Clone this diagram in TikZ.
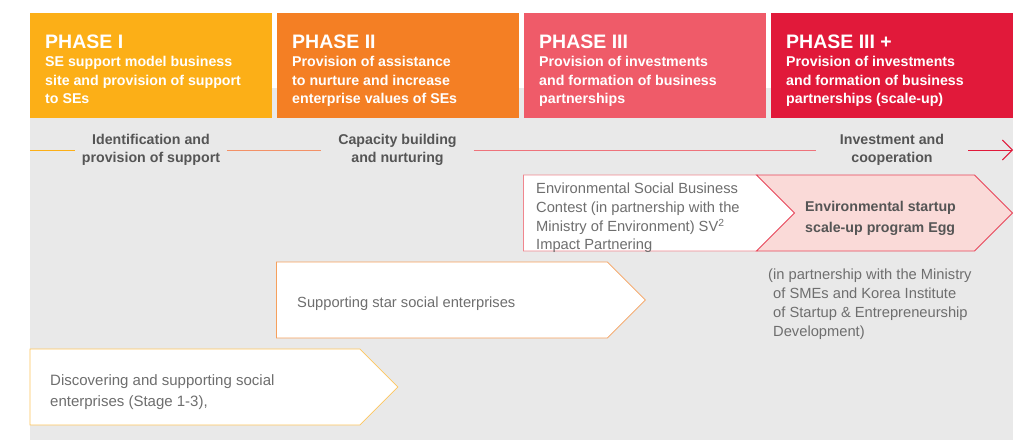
\documentclass[tikz,border=0pt]{standalone}
\usepackage{fontspec}
\setmainfont{Liberation Sans}
\usetikzlibrary{arrows.meta,shapes.symbols}
\definecolor{phaseI}{HTML}{FCAF17}
\definecolor{phaseII}{HTML}{F47F24}
\definecolor{phaseIII}{HTML}{EF5B69}
\definecolor{phaseIV}{HTML}{E1193A}
\definecolor{lineII}{HTML}{F39167}
\definecolor{lineIII}{HTML}{EE737B}
\definecolor{bggray}{HTML}{E9E9E9}
\definecolor{labelgray}{HTML}{555555}
\definecolor{textgray}{HTML}{6E6E6E}
\definecolor{envpink}{HTML}{F0868E}
\definecolor{eggpink}{HTML}{FADAD8}
\definecolor{eggedge}{HTML}{E8465A}
\definecolor{starorange}{HTML}{F6A05C}
\definecolor{discyellow}{HTML}{FDC55C}

\begin{document}
\begin{tikzpicture}
        [x=1pt,y=-1pt]
            \tikzstyle{header}=[anchor=north west, minimum width=242pt,
        minimum height=105pt, inner sep=0pt]
            \tikzstyle{phasetitle}=[anchor=base west, inner sep=0pt, text=white,
        font=\fontsize{19.5}{20}\selectfont\bfseries]
            \tikzstyle{phasesub}=[anchor=north west, inner sep=0pt, text=white,
        align=left, font=\fontsize{14.2}{18.5}\selectfont\bfseries]
            \tikzstyle{steplabel}=[minimum width=152pt, inner sep=0pt, align=center,
        text=labelgray, font=\fontsize{14.2}{18.5}\selectfont\bfseries]
            \tikzstyle{chev}=[signal, signal to=east, minimum height=76pt,
        inner sep=0pt, anchor=west, fill=white, line width=0.8pt]
            \tikzstyle{lighttxt}=[inner sep=0pt, align=left, text=textgray,
        font=\fontsize{14.7}{18.7}\selectfont]
        \useasboundingbox (0,0) rectangle (1028,440);
        \fill[bggray] (30,88) rectangle (1013,440);
        %-----phases
         \node[header, fill=phaseI]  (ph1) at (30,13) {};
         \node[header, fill=phaseII]  (ph2) at (277,13) {};
         \node[header, fill=phaseIII]  (ph3) at (524,13) {};
         \node[header, fill=phaseIV]  (ph4) at (771,13) {};
         \node[phasetitle]  (ph1t) at ([xshift=15pt,yshift=-35pt]ph1.north west) {PHASE I};
         \node[phasetitle]  (ph2t) at ([xshift=15pt,yshift=-35pt]ph2.north west) {PHASE II};
         \node[phasetitle]  (ph3t) at ([xshift=15pt,yshift=-35pt]ph3.north west) {PHASE III};
         \node[phasetitle]  (ph4t) at ([xshift=15pt,yshift=-35pt]ph4.north west) {PHASE III +};
         \node[phasesub]  (ph1s) at ([xshift=15pt,yshift=-43.2pt]ph1.north west) {SE support model business\\site and provision of support\\to SEs};
         \node[phasesub]  (ph2s) at ([xshift=15pt,yshift=-43.2pt]ph2.north west) {Provision of assistance\\to nurture and increase\\enterprise values of SEs};
         \node[phasesub]  (ph3s) at ([xshift=15pt,yshift=-43.2pt]ph3.north west) {Provision of investments\\and formation of business\\partnerships};
         \node[phasesub]  (ph4s) at ([xshift=15pt,yshift=-43.2pt]ph4.north west) {Provision of investments\\and formation of business\\partnerships (scale-up)};

        %-----timeline
         \coordinate (tlstart) at (30,150);
         \coordinate (tlend) at (1013,150);
         \node[steplabel]  (ident) at (151,150) {Identification and\\provision of support};
         \node[steplabel]  (build) at (397.5,150) {Capacity building\\and nurturing};
         \node[steplabel]  (invest) at (892,150) {Investment and\\cooperation};

         \foreach \from/\to/\col in {tlstart/ident.west/phaseI, ident.east/build.west/lineII, build.east/invest.west/lineIII}
         \draw[line width=0.9pt, \col] (\from) -- (\to);
         \draw[line width=0.9pt, phaseIV, -{Straight Barb[length=10pt,width=20pt]}] (invest.east) -- (tlend);

        %-----programs
         \node[chev, draw=envpink, minimum width=272pt]  (contest) at (523,213) {};
         \node[chev, signal from=west, anchor=east, fill=eggpink, draw=eggedge, minimum width=256pt]  (egg) at (1013,213) {};
         \node[chev, draw=starorange, minimum width=369pt]  (star) at (276,300) {};
         \node[chev, draw=discyellow, minimum width=368pt]  (discover) at (29.5,387) {};

         \node[lighttxt, anchor=north west]  (contestT) at (536,183) {Environmental Social Business\\Contest (in partnership with the\\Ministry of Environment) SV\textsuperscript{2}\\Impact Partnering};
         \node[lighttxt, anchor=west, text=labelgray, font=\fontsize{14.2}{21}\selectfont\bfseries]  (eggT) at (805,218) {Environmental startup\\scale-up program Egg};
         \node[lighttxt, anchor=west]  (starT) at (297,304) {Supporting star social enterprises};
         \node[lighttxt, anchor=west, font=\fontsize{15}{21.7}\selectfont]  (discoverT) at (50,392) {Discovering and supporting social\\enterprises (Stage 1-3),};
         \node[lighttxt, anchor=north west, font=\fontsize{14.7}{19}\selectfont]  (note) at (768,269) {(in partnership with the Ministry\\\hspace*{5pt}of SMEs and Korea Institute\\\hspace*{5pt}of Startup \& Entrepreneurship\\\hspace*{5pt}Development)};

        \end{tikzpicture}
\end{document}
